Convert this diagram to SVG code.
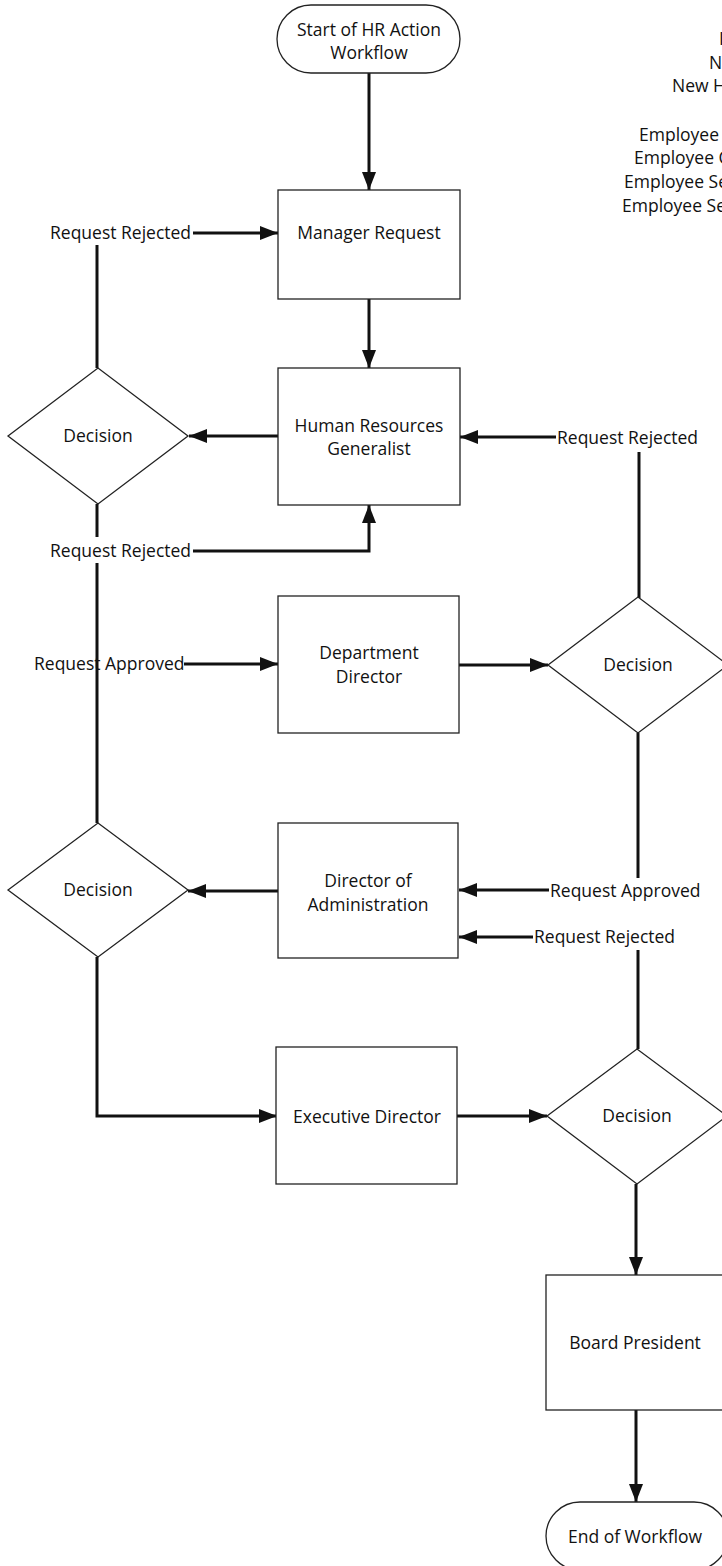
<svg xmlns="http://www.w3.org/2000/svg" width="722" height="1566" viewBox="0 0 722 1566">
<defs>
<style>
.t{font-family:"Open Sans","Liberation Sans",sans-serif;font-size:17.5px;fill:#111;}
.m{text-anchor:middle;}
.n{fill:#fff;stroke:#222;stroke-width:1.3;}
.c{fill:none;stroke:#111;stroke-width:3;}
.a{marker-end:url(#ah);}
</style>
<marker id="ah" markerUnits="userSpaceOnUse" markerWidth="18" markerHeight="14" refX="18" refY="7" orient="auto">
<path d="M0,0 L18,7 L0,14 z" fill="#111"/>
</marker>
</defs>
<rect width="722" height="1566" fill="#fff"/>

<g id="legend">
<text class="t" x="719" y="45">I</text>
<text class="t" x="709" y="69">N</text>
<text class="t" x="672" y="92">New H</text>
<text class="t" x="639" y="141">Employee</text>
<text class="t" x="634" y="164">Employee C</text>
<text class="t" x="624" y="188">Employee Se</text>
<text class="t" x="622" y="212">Employee Se</text>
</g>

<g id="connectors">
<path class="c a" d="M369,73 V190"/>
<path class="c a" d="M193,233 H278"/>
<path class="c" d="M97,245 V368"/>
<path class="c a" d="M369,299 V368"/>
<path class="c a" d="M278,436 H189"/>
<path class="c a" d="M556,437 H460"/>
<path class="c" d="M639,452 V598"/>
<path class="c" d="M97,504 V537"/>
<path class="c a" d="M193,551 H369 V505"/>
<path class="c" d="M97,563 V823"/>
<path class="c a" d="M184,664 H278"/>
<path class="c a" d="M459,665 H548"/>
<path class="c" d="M638,733 V878"/>
<path class="c a" d="M549,890 H459"/>
<path class="c a" d="M278,891 H188"/>
<path class="c a" d="M533,937 H459"/>
<path class="c" d="M638,950 V1049"/>
<path class="c a" d="M97,957 V1116 H277"/>
<path class="c a" d="M457,1116 H547"/>
<path class="c a" d="M636,1184 V1275"/>
<path class="c a" d="M636,1410 V1502"/>
</g>

<g id="labels">
<text class="t" x="50" y="239">Request Rejected</text>
<text class="t" x="557" y="444">Request Rejected</text>
<text class="t" x="50" y="557">Request Rejected</text>
<text class="t" x="34" y="670">Request Approved</text>
<text class="t" x="550" y="897">Request Approved</text>
<text class="t" x="534" y="943">Request Rejected</text>
</g>

<g id="start">
<rect class="n" x="277" y="5" width="183" height="68" rx="34"/>
<text class="t m" x="369" y="36">Start of HR Action</text>
<text class="t m" x="369" y="59">Workflow</text>
</g>

<g id="manager">
<rect class="n" x="278" y="190" width="182" height="109"/>
<text class="t m" x="369" y="239">Manager Request</text>
</g>

<g id="hr">
<rect class="n" x="278" y="368" width="182" height="137"/>
<text class="t m" x="369" y="432">Human Resources</text>
<text class="t m" x="369" y="455">Generalist</text>
</g>

<g id="decision1">
<polygon class="n" points="8,436 98,368 188,436 98,504"/>
<text class="t m" x="98" y="442">Decision</text>
</g>

<g id="dept">
<rect class="n" x="278" y="596" width="181" height="137"/>
<text class="t m" x="369" y="659">Department</text>
<text class="t m" x="369" y="683">Director</text>
</g>

<g id="decision2">
<polygon class="n" points="548,665 638,597 728,665 638,733"/>
<text class="t m" x="638" y="671">Decision</text>
</g>

<g id="diradm">
<rect class="n" x="278" y="823" width="180" height="135"/>
<text class="t m" x="368" y="887">Director of</text>
<text class="t m" x="368" y="911">Administration</text>
</g>

<g id="decision3">
<polygon class="n" points="8,890 98,823 188,890 98,957"/>
<text class="t m" x="98" y="896">Decision</text>
</g>

<g id="exec">
<rect class="n" x="276" y="1047" width="181" height="137"/>
<text class="t m" x="367" y="1123">Executive Director</text>
</g>

<g id="decision4">
<polygon class="n" points="547,1116 637,1049 727,1116 637,1184"/>
<text class="t m" x="637" y="1122">Decision</text>
</g>

<g id="board">
<rect class="n" x="546" y="1275" width="182" height="135"/>
<text class="t m" x="635" y="1349">Board President</text>
</g>

<g id="end">
<rect class="n" x="546" y="1502" width="182" height="68" rx="34"/>
<text class="t m" x="635" y="1543">End of Workflow</text>
</g>
</svg>
